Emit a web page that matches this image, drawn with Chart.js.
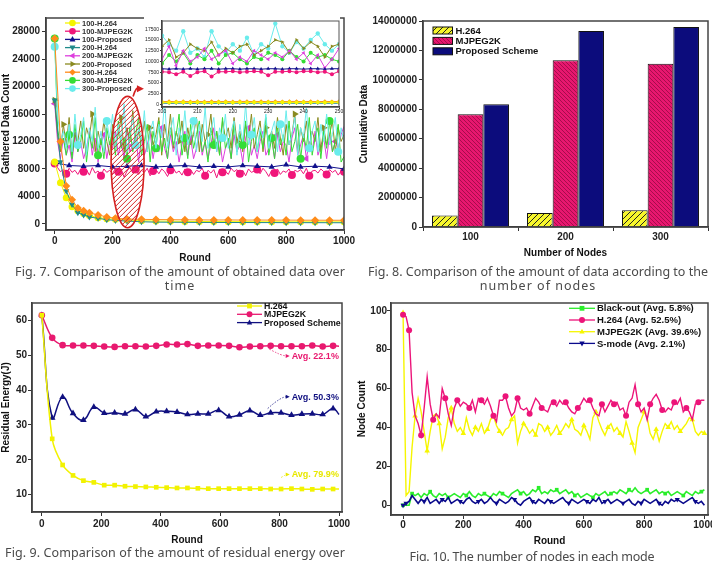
<!DOCTYPE html>
<html>
<head>
<meta charset="utf-8">
<script src="https://cdn.jsdelivr.net/npm/chart.js@4.4.0/dist/chart.umd.min.js"></script>
<style>
  html, body { margin: 0; padding: 0; background: #fff; }
  body { width: 712px; height: 561px; position: relative; overflow: hidden; }
  .box { position: absolute; }
  .cap { position: absolute; white-space: nowrap; font-family: "Noto Sans", "DejaVu Sans", sans-serif;
         font-size: 12.5px; line-height: 14px; color: #4a4a4a; transform: translateX(-50%); letter-spacing: 1px; }
</style>
</head>
<body>
<div class="box" style="left:0;top:0"><canvas id="c1" width="356" height="266"></canvas></div>
<div class="box" style="left:138px;top:17px"><canvas id="c1z" width="208" height="100"></canvas></div>
<div class="box" style="left:356px;top:0"><canvas id="c2" width="356" height="266"></canvas></div>
<div class="box" style="left:0;top:288px"><canvas id="c3" width="356" height="260"></canvas></div>
<div class="box" style="left:356px;top:288px"><canvas id="c4" width="356" height="260"></canvas></div>

<div class="cap" data-w="330" style="left:180px;top:265px">Fig. 7. Comparison of the amount of obtained data over</div>
<div class="cap" style="left:180px;top:279px">time</div>
<div class="cap" data-w="340" style="left:538px;top:265px">Fig. 8. Comparison of the amount of data according to the</div>
<div class="cap" style="left:538px;top:279px">number of nodes</div>
<div class="cap" data-w="340" style="left:175px;top:546px">Fig. 9. Comparison of the amount of residual energy over</div>
<div class="cap" data-w="245" style="left:532px;top:550px">Fig. 10. The number of nodes in each mode</div>

<script>
// ---------- tick labels ----------
const roundTicks = [0, 200, 400, 600, 800, 1000];
const gatheredTicks = [0, 4000, 8000, 12000, 16000, 20000, 24000, 28000];
const insetRoundTicks = [200, 210, 220, 230, 240, 250];
const insetCountTicks = [0, 2500, 5000, 7500, 10000, 12500, 15000, 17500];
const cumTicks = [0, 2000000, 4000000, 6000000, 8000000, 10000000, 12000000, 14000000];
const energyTicks = [10, 20, 30, 40, 50, 60];
const nodeCountTicks = [0, 20, 40, 60, 80, 100];

// ---------- Fig. 7 : gathered data count ----------
const mainRounds = Array.from({ length: 101 }, (_, i) => i * 10);
const h264Rounds = [0, 20, 40, 60, 80, 100, 120, 150, 180, 210, 250, 300, 350, 400, 450, 500, 550, 600, 650, 700, 750, 800, 850, 900, 950, 1000];
const proposed100Rounds = Array.from({ length: 21 }, (_, i) => i * 50);

const h264_100 = [9000, 6000, 3800, 2500, 1900, 1500, 1200, 900, 750, 650, 550, 450, 400, 380, 350, 340, 330, 320, 320, 310, 300, 300, 300, 290, 290, 290];
const h264_200 = [18000, 9000, 4800, 2800, 1600, 1300, 1000, 800, 600, 500, 400, 300, 250, 230, 220, 200, 200, 190, 190, 180, 180, 170, 170, 170, 160, 160];
const h264_300 = [27000, 12000, 5500, 3500, 2300, 1900, 1600, 1300, 1000, 800, 700, 650, 620, 600, 580, 570, 560, 560, 550, 550, 540, 540, 530, 530, 520, 520];
const proposed_100 = [8900, 8500, 8400, 8500, 8300, 8400, 8500, 8300, 8400, 8500, 8300, 8400, 8300, 8500, 8400, 8300, 8600, 8300, 8400, 8300, 8000];
const mjpeg_100 = [
  8800, 8200, 7600, 7900, 7300, 8100, 7500, 7800, 7200, 8000,
  7600, 7900, 7100, 8200, 7400, 7700, 7000, 8000, 7500, 7800,
  7300, 8100, 7600, 7900, 6800, 7700, 8200, 7400, 7900, 7200,
  7800, 7500, 8100, 7000, 7700, 7900, 7300, 8000, 7600, 6900,
  7800, 8100, 7400, 7700, 7100, 8000, 7500, 7900, 7200, 7800,
  7600, 8100, 7000, 7800, 7400, 7900, 6700, 8000, 7500, 7700,
  7200, 8100, 7600, 7900, 7300, 7800, 7000, 8000, 7500, 7700,
  7900, 7300, 8100, 7600, 6900, 7800, 7400, 8000, 7200, 7700,
  7500, 8000, 7100, 7800, 7600, 7900, 7300, 8100, 7000, 7700,
  7800, 7400, 8000, 7600, 7200, 7900, 7500, 7800, 7100, 7700, 7600];
const mjpeg_200 = [
  17500, 12000, 9500, 12500, 10000, 11500, 9000, 13000, 10500, 12000,
  9500, 11000, 13500, 10000, 12500, 9000, 11500, 13000, 9500, 12000,
  11000, 13500, 10000, 12000, 9500, 14000, 10500, 11500, 13000, 9000,
  12500, 10000, 11500, 13500, 9500, 12000, 10500, 14000, 11000, 9500,
  13000, 10500, 12000, 9000, 11500, 13500, 10000, 12500, 9500, 11000,
  13500, 10000, 12000, 9500, 11500, 14000, 10500, 12500, 9000, 11000,
  12000, 9500, 13000, 10500, 11500, 9000, 12500, 14000, 10000, 11500,
  9500, 12000, 13500, 10000, 11000, 12500, 9500, 13000, 10500, 12000,
  11500, 9000, 12500, 14000, 10000, 11500, 13000, 9500, 12000, 10500,
  13500, 10000, 11500, 12500, 9500, 13000, 10500, 12000, 11000, 13000, 14200];
const proposed_200 = [
  18000, 13000, 10500, 14500, 11500, 15500, 10000, 13000, 12000, 15000,
  11000, 14000, 12500, 16000, 10500, 13500, 11500, 15000, 12000, 10000,
  14500, 11500, 13000, 15500, 10500, 14000, 12000, 16500, 11000, 13500,
  12000, 15000, 10500, 14000, 11500, 13000, 15500, 10000, 14500, 12000,
  16000, 11000, 13500, 12000, 15000, 10500, 14000, 11500, 13000, 15500,
  10500, 14500, 12000, 13000, 16000, 11000, 13500, 10000, 15000, 12500,
  14000, 11000, 15500, 12000, 13500, 10500, 14500, 12500, 16000, 11000,
  13000, 15000, 10500, 14000, 12000, 13500, 11000, 15500, 12500, 10000,
  14500, 11500, 13000, 16000, 10500, 14000, 12000, 15000, 11000, 13500,
  12000, 15500, 10500, 14000, 11500, 13000, 15000, 10500, 14000, 12000, 13000];
const mjpeg_300 = [
  27000, 14000, 11000, 12500, 10000, 13000, 9500, 14500, 10500, 12000,
  15000, 9000, 13000, 11000, 15500, 10000, 12500, 9500, 14000, 11500,
  13500, 10000, 15000, 11000, 12500, 9500, 14000, 10500, 13000, 15500,
  10000, 12000, 14500, 9000, 13500, 11000, 15000, 10500, 12500, 9500,
  14000, 11500, 13000, 16000, 10000, 12500, 9500, 14500, 11000, 13000,
  15000, 10500, 12000, 9000, 14000, 11500, 13500, 10000, 15500, 11000,
  12500, 9500, 14500, 10500, 13000, 11500, 15000, 9000, 12000, 14000,
  10500, 13500, 11000, 15500, 10000, 12500, 9500, 14000, 11500, 13000,
  10000, 15000, 10500, 12000, 14500, 9500, 13000, 11000, 15500, 10000,
  12500, 14000, 9500, 13500, 11000, 15000, 10500, 12000, 14500, 9000, 9800];
const proposed_300 = [
  25800, 16000, 12000, 13500, 11000, 14500, 10500, 16000, 11500, 13000,
  15500, 10000, 14000, 12000, 17000, 11000, 13500, 10500, 15000, 12500,
  16000, 11000, 14500, 12000, 17500, 10500, 13000, 15500, 11500, 14000,
  12000, 16500, 10500, 13500, 15000, 11000, 14500, 12500, 18000, 11000,
  13500, 15500, 10000, 14000, 12000, 16500, 11500, 13000, 15000, 10500,
  14500, 12000, 17000, 11000, 13500, 15500, 10500, 14000, 12500, 16000,
  11000, 13500, 15000, 10000, 14500, 12000, 17500, 11500, 13000, 15500,
  10500, 14000, 12500, 16000, 11000, 13500, 15000, 10500, 14500, 12000,
  16500, 11500, 13000, 15500, 10000, 14000, 12500, 17000, 11000, 13500,
  15000, 10500, 14500, 12000, 16000, 11500, 13000, 15500, 10500, 14000, 12000];

// zoomed window, rounds 200-250
const insetRounds = Array.from({ length: 26 }, (_, i) => 200 + i * 2);
const inset_h264_100 = [500, 450, 500, 480, 450, 500, 470, 450, 480, 500, 460, 480, 450, 500, 470, 480, 460, 500, 480, 460, 500, 470, 480, 460, 500, 480];
const inset_h264_200 = [300, 250, 280, 300, 250, 270, 300, 260, 280, 250, 300, 270, 260, 280, 300, 250, 280, 270, 300, 260, 280, 250, 300, 270, 280, 260];
const inset_h264_300 = [650, 700, 620, 680, 650, 700, 640, 690, 660, 700, 630, 680, 700, 650, 690, 640, 700, 660, 680, 700, 650, 690, 640, 700, 660, 680];
const inset_prop_100 = [8300, 8200, 8300, 8200, 8300, 8200, 8300, 8300, 8200, 8300, 8300, 8200, 8300, 8300, 8200, 8300, 8300, 8200, 8300, 8300, 8200, 8300, 8300, 8200, 8300, 8300];
const inset_mjpeg_100 = [7600, 7500, 7000, 7600, 6600, 7500, 7700, 6500, 7600, 7600, 7700, 7500, 7600, 7700, 7600, 6800, 7600, 7600, 7700, 7500, 7700, 7700, 7500, 7600, 7000, 7700];
const inset_mjpeg_200 = [10500, 13500, 9000, 12500, 10000, 11000, 13000, 10500, 11500, 12500, 9500, 11000, 10000, 12500, 11500, 10500, 12000, 11000, 12500, 10500, 12000, 9500, 11500, 8500, 10500, 13000];
const inset_prop_200 = [13500, 15000, 11000, 12000, 14000, 13000, 12500, 14500, 11500, 13000, 12000, 13500, 14000, 11500, 12500, 13500, 15000, 14500, 12000, 15000, 13000, 14500, 13500, 11000, 13500, 14000];
const inset_mjpeg_300 = [9500, 11500, 10000, 12000, 9500, 11500, 10500, 12500, 9500, 11500, 12000, 10500, 9500, 11000, 10500, 12000, 11500, 10500, 12500, 11000, 10000, 12000, 11000, 11500, 10500, 10000];
const inset_prop_300 = [16000, 14000, 12500, 17000, 12000, 13000, 11000, 17000, 13500, 12000, 14000, 12500, 15500, 11500, 14000, 13000, 18800, 13500, 12000, 14500, 13000, 15000, 16500, 14000, 12500, 14000];

// highlighted window (ellipse) and its arrow, in data units
const markCenter = [252, 9000];
const markRadius = [57, 9570];
const arrowPath = [[271, 18550], [282, 20100], [305, 19700]];

// ---------- Fig. 8 : cumulative data ----------
const nodeCounts = ['100', '200', '300'];
const cumH264 = [790000, 950000, 1130000];
const cumMjpeg = [7670000, 11340000, 11090000];
const cumProposed = [8350000, 13320000, 13590000];

// ---------- Fig. 9 : residual energy ----------
const energyRounds = [0, 35, 70, 105, 140, 175, 210, 245, 280, 315, 350, 385, 420, 455, 490, 525, 560, 595, 630, 665, 700, 735, 770, 805, 840, 875, 910, 945, 980, 1000];
const energyH264 = [61.5, 26, 18.5, 15.5, 14, 13.5, 12.7, 12.7, 12.4, 12.3, 12.2, 12.1, 12.0, 11.9, 11.9, 11.8, 11.7, 11.7, 11.7, 11.7, 11.7, 11.7, 11.6, 11.6, 11.7, 11.6, 11.5, 11.6, 11.6, 11.6];
const energyMjpeg = [61.5, 55, 52.9, 52.8, 52.8, 52.7, 52.5, 52.4, 52.6, 52.6, 52.5, 52.7, 53.1, 53.1, 53.2, 52.7, 52.8, 52.8, 52.7, 52.3, 52.5, 52.6, 52.7, 52.6, 52.6, 52.6, 52.8, 52.5, 52.7, 52.6];
const energyProposed = [61.5, 32, 38, 33.3, 31.4, 35.1, 33.4, 33.5, 33.2, 34.4, 32.4, 33.8, 33.9, 33.7, 33, 33.2, 33.2, 34.2, 32.4, 32.9, 34.1, 32.8, 33.5, 33.5, 32.8, 33.1, 33.2, 33, 34.7, 33];
const avgNotes = [
  { text: 'Avg. 22.1%', color: '#e8196f', from: [765, 51.8], to: [834, 49.8] },
  { text: 'Avg. 50.3%', color: '#101080', from: [760, 34.7], to: [834, 38.1] },
  { text: 'Avg. 79.9%', color: '#e8e800', from: [805, 14.9], to: [834, 15.8] }
];

// ---------- Fig. 10 : node count per mode ----------
const modeRounds = Array.from({ length: 101 }, (_, i) => i * 10);
const blackout = [
  0, 0, 0, 6, 5, 6, 4, 6, 5, 7,
  5, 4, 6, 5, 6, 4, 5, 6, 5, 4,
  6, 5, 7, 5, 4, 6, 5, 6, 5, 4,
  6, 5, 7, 6, 5, 4, 6, 7, 8, 6,
  7, 5, 6, 8, 7, 9, 6, 7, 6, 8,
  7, 8, 6, 7, 8, 6, 7, 5, 6, 4,
  5, 6, 5, 4, 6, 5, 6, 7, 5, 6,
  7, 6, 8, 7, 6, 8, 7, 9, 7, 6,
  7, 8, 6, 7, 8, 6, 7, 6, 7, 5,
  6, 7, 6, 5, 7, 6, 5, 7, 6, 7, 8];
const modeH264 = [
  98, 97, 90, 58, 46, 42, 36, 50, 66, 52,
  44, 47, 45, 60, 55, 47, 41, 50, 54, 51,
  53, 52, 50, 54, 48, 55, 54, 52, 55, 51,
  46, 43, 54, 54, 56, 50, 46, 48, 55, 50,
  49, 50, 47, 51, 55, 53, 50, 49, 48, 52,
  53, 51, 54, 52, 53, 50, 48, 47, 50, 52,
  55, 53, 54, 50, 47, 46, 52, 48, 51, 54,
  52, 53, 49, 50, 46, 53, 55, 62, 52, 48,
  50, 44, 52, 55, 57, 54, 49, 48, 50, 49,
  53, 52, 55, 48, 50, 48, 44, 52, 53, 54, 54];
const modeMjpeg = [
  99, 5, 7, 30, 46, 55, 48, 38, 28, 38,
  46, 47, 42, 29, 35, 45, 50, 42, 38, 40,
  37, 45, 39, 36, 40, 38, 42, 37, 39, 44,
  46, 41, 38, 36, 39, 40, 44, 46, 32, 38,
  42, 40, 37, 39, 36, 42, 41, 38, 40, 36,
  38, 41, 37, 39, 42, 40, 44, 39, 38, 36,
  41, 38, 34, 45, 48, 43, 39, 36, 40, 42,
  38, 40, 37, 35, 43, 38, 32, 27, 40, 44,
  48, 45, 37, 34, 39, 33, 38, 42, 40, 43,
  39, 41, 38, 40, 42, 45, 44, 38, 36, 38, 37];
const sMode = [
  0, 1, 2, 5, 3, 1, 3, 2, 4, 1,
  2, 3, 1, 3, 2, 4, 1, 2, 3, 2,
  1, 3, 4, 2, 1, 2, 3, 1, 2, 4,
  2, 1, 3, 2, 1, 2, 4, 3, 1, 0,
  2, 3, 4, 2, 1, 3, 2, 1, 3, 2,
  1, 2, 3, 4, 2, 1, 3, 2, 1, 2,
  3, 2, 1, 3, 2, 4, 1, 2, 3, 1,
  2, 3, 2, 1, 2, 3, 1, 0, 2, 1,
  3, 2, 1, 2, 3, 1, 0, 2, 1, 3,
  2, 3, 2, 1, 2, 3, 4, 2, 1, 2, 0];

// ---------- helpers ----------
const FAMILY = "'Liberation Sans', Arial, sans-serif";
const pts = (xs, ys) => xs.map((x, i) => ({ x, y: ys[i] }));

function linAxis(o) {
  return {
    type: 'linear', min: o.min, max: o.max,
    ticks: {
      autoSkip: false, maxRotation: 0,
      padding: o.tickPad, color: '#222', font: { family: FAMILY, size: o.fs || 10, weight: o.fw || 'bold' },
      callback: v => String(v)
    },
    afterBuildTicks: s => { s.ticks = o.at.map(v => ({ value: v })); },
    grid: { drawOnChartArea: false, drawTicks: true, tickLength: o.tl || 4, color: '#333', lineWidth: 1 },
    border: { display: true, color: '#333', width: 1.5 },
    title: {
      display: !!o.title, text: o.title, color: '#111',
      font: { family: FAMILY, size: 10, weight: 'bold' },
      padding: { top: o.titlePad || 0, bottom: o.titlePad || 0 }
    },
    afterFit: s => fixSize(s, o.size)
  };
}

function fixSize(s, size) {
  if (s.isHorizontal()) { s.height = size; s.paddingLeft = 0; s.paddingRight = 0; }
  else { s.width = size; s.paddingTop = 0; s.paddingBottom = 0; }
}

function series(label, color, data, style, extra) {
  return Object.assign({
    label, data, borderColor: color, backgroundColor: color,
    pointBackgroundColor: color, pointBorderColor: color,
    pointStyle: style, pointRadius: 3.5, pointBorderWidth: 0,
    borderWidth: 1, fill: false, tension: 0
  }, extra);
}

function everyNth(n, off, r) {
  return ctx => (ctx.dataIndex === 0 || ctx.dataIndex % n === off) ? r : 0;
}

function drawMarker(ctx, style, rot, r, x, y) {
  ctx.save();
  ctx.translate(x, y);
  ctx.rotate((rot || 0) * Math.PI / 180);
  ctx.beginPath();
  if (style === 'rect') ctx.rect(-r * 0.8, -r * 0.8, r * 1.6, r * 1.6);
  else if (style === 'rectRot') { ctx.moveTo(0, -r); ctx.lineTo(r, 0); ctx.lineTo(0, r); ctx.lineTo(-r, 0); ctx.closePath(); }
  else if (style === 'triangle') { ctx.moveTo(0, -r); ctx.lineTo(r * 0.9, r * 0.6); ctx.lineTo(-r * 0.9, r * 0.6); ctx.closePath(); }
  else ctx.arc(0, 0, r, 0, Math.PI * 2);
  ctx.fill();
  ctx.restore();
}

const framePlugin = {
  id: 'frame',
  afterDatasetsDraw(chart) {
    const { ctx, chartArea: a } = chart;
    ctx.save();
    ctx.strokeStyle = chart.options.frameColor || '#444';
    ctx.lineWidth = chart.options.frameWidth || 1.5;
    ctx.strokeRect(a.left, a.top, a.right - a.left, a.bottom - a.top);
    ctx.restore();
  }
};

function lineLegend(cfg) {
  return {
    id: 'lineLegend',
    afterDraw(chart) {
      const { ctx, chartArea } = chart;
      ctx.save();
      ctx.font = cfg.font;
      ctx.textBaseline = 'middle';
      chart.data.datasets.forEach((ds, i) => {
        const y = chartArea.top + cfg.top + i * cfg.rowH;
        const x0 = chartArea.left + cfg.left;
        ctx.strokeStyle = ds.borderColor;
        ctx.lineWidth = 1.3;
        ctx.beginPath(); ctx.moveTo(x0, y); ctx.lineTo(x0 + cfg.len, y); ctx.stroke();
        ctx.fillStyle = ds.pointBackgroundColor;
        drawMarker(ctx, ds.pointStyle, ds.pointRotation, cfg.r, x0 + cfg.len / 2, y);
        ctx.fillStyle = cfg.textColor || '#111';
        ctx.fillText(ds.label, x0 + cfg.len + cfg.gap, y + 0.5);
      });
      ctx.restore();
    }
  };
}

function hatch(bg, line, size, dir) {
  const c = document.createElement('canvas');
  c.width = size; c.height = size;
  const g = c.getContext('2d');
  g.fillStyle = bg; g.fillRect(0, 0, size, size);
  g.strokeStyle = line; g.lineWidth = 1;
  g.beginPath();
  if (dir === '/') {
    g.moveTo(-1, size + 1); g.lineTo(size + 1, -1);
    g.moveTo(-1, 1); g.lineTo(1, -1);
    g.moveTo(size - 1, size + 1); g.lineTo(size + 1, size - 1);
  } else {
    g.moveTo(-1, -1); g.lineTo(size + 1, size + 1);
    g.moveTo(size - 1, -1); g.lineTo(size + 1, 1);
    g.moveTo(-1, size - 1); g.lineTo(1, size + 1);
  }
  g.stroke();
  return g.createPattern(c, 'repeat');
}

const noHover = { responsive: false, animation: false, events: [],
  plugins: { legend: { display: false }, tooltip: { enabled: false } } };

// ---------- Fig. 7 main ----------
const c1Colors = { y: '#f4f400', pink: '#f0167a', navy: '#10108c', teal: '#1f8a8a',
  violet: '#dd3fdd', olive: '#8a8a20', orange: '#ff8c1a', green: '#35dd35', cyan: '#6aecec' };

const markPlugin = {
  id: 'mark',
  afterDatasetsDraw(chart) {
    const { ctx, scales: { x, y } } = chart;
    const cx = x.getPixelForValue(markCenter[0]), cy = y.getPixelForValue(markCenter[1]);
    const rx = x.getPixelForValue(markCenter[0] + markRadius[0]) - cx;
    const ry = cy - y.getPixelForValue(markCenter[1] + markRadius[1]);
    ctx.save();
    ctx.beginPath(); ctx.ellipse(cx, cy, rx, ry, 0, 0, Math.PI * 2);
    ctx.save(); ctx.clip();
    ctx.strokeStyle = '#d42a2a'; ctx.lineWidth = 1;
    for (let d = -rx - ry * 2; d < rx + ry * 2; d += 5) {
      ctx.beginPath(); ctx.moveTo(cx + d - ry, cy + ry); ctx.lineTo(cx + d + ry, cy - ry); ctx.stroke();
    }
    ctx.restore();
    ctx.beginPath(); ctx.ellipse(cx, cy, rx, ry, 0, 0, Math.PI * 2);
    ctx.strokeStyle = '#d42020'; ctx.lineWidth = 1.6; ctx.stroke();
    const p = arrowPath.map(q => [x.getPixelForValue(q[0]), y.getPixelForValue(q[1])]);
    ctx.beginPath(); ctx.moveTo(p[0][0], p[0][1]); ctx.quadraticCurveTo(p[1][0], p[1][1], p[2][0] - 4, p[2][1]);
    ctx.stroke();
    ctx.fillStyle = '#d42020';
    ctx.beginPath(); ctx.moveTo(p[2][0] + 1, p[2][1]); ctx.lineTo(p[2][0] - 6, p[2][1] - 3.5); ctx.lineTo(p[2][0] - 6, p[2][1] + 3.5); ctx.closePath(); ctx.fill();
    ctx.restore();
  }
};

new Chart(document.getElementById('c1'), {
  type: 'line',
  data: {
    datasets: [
      series('100-H.264', c1Colors.y, pts(h264Rounds, h264_100), 'circle', { order: 0.8 }),
      series('100-MJPEG2K', c1Colors.pink, pts(mainRounds, mjpeg_100), 'circle', { order: 2, pointRadius: everyNth(6, 4, 4) }),
      series('100-Proposed', c1Colors.navy, pts(proposed100Rounds, proposed_100), 'triangle', { order: 1 }),
      series('200-H.264', c1Colors.teal, pts(h264Rounds, h264_200), 'triangle', { order: 0.4, pointRotation: 180 }),
      series('200-MJPEG2K', c1Colors.violet, pts(mainRounds, mjpeg_200), 'triangle', { order: 6, pointRotation: 270, pointRadius: everyNth(10, 7, 4) }),
      series('200-Proposed', c1Colors.olive, pts(mainRounds, proposed_200), 'triangle', { order: 5, pointRotation: 90, pointRadius: everyNth(10, 3, 4) }),
      series('300-H.264', c1Colors.orange, pts(h264Rounds, h264_300), 'rectRot', { order: 0, pointRadius: 4 }),
      series('300-MJPEG2K', c1Colors.green, pts(mainRounds, mjpeg_300), 'circle', { order: 4, pointRadius: everyNth(10, 5, 4) }),
      series('300-Proposed', c1Colors.cyan, pts(mainRounds, proposed_300), 'circle', { order: 3, pointRadius: everyNth(10, 8, 4) })
    ]
  },
  options: Object.assign({}, noHover, {
    layout: { padding: { left: 0, right: 12, top: 18, bottom: 0 } },
    scales: {
      x: linAxis({ min: -30, max: 1000, at: roundTicks, size: 36, tickPad: 1, title: 'Round', titlePad: 2 }),
      y: linAxis({ min: -900, max: 30000, at: gatheredTicks, size: 46, tickPad: 2, title: 'Gathered Data Count', titlePad: 0 })
    }
  }),
  plugins: [framePlugin, markPlugin,
    lineLegend({ font: "bold 7.5px " + FAMILY, top: 5, rowH: 8.2, left: 19, len: 15, gap: 2, r: 3.3, textColor: '#333' })]
});

// ---------- Fig. 7 inset ----------
const insetBg = {
  id: 'insetBg',
  beforeDraw(chart) {
    const { ctx, chartArea: a } = chart;
    ctx.save(); ctx.fillStyle = '#fff';
    ctx.fillRect(a.left - 18, 0, a.right - a.left + 19, a.bottom + 1);
    ctx.restore();
  }
};

new Chart(document.getElementById('c1z'), {
  type: 'line',
  data: {
    datasets: [
      series('100-H.264', c1Colors.y, pts(insetRounds, inset_h264_100), 'circle', { pointRadius: 2 }),
      series('100-MJPEG2K', c1Colors.pink, pts(insetRounds, inset_mjpeg_100), 'circle', { pointRadius: 2 }),
      series('100-Proposed', c1Colors.navy, pts(insetRounds, inset_prop_100), 'triangle', { pointRadius: 2.2 }),
      series('200-H.264', c1Colors.teal, pts(insetRounds, inset_h264_200), 'triangle', { pointRadius: 2, pointRotation: 180 }),
      series('200-MJPEG2K', c1Colors.violet, pts(insetRounds, inset_mjpeg_200), 'triangle', { pointRadius: 2.2, pointRotation: 270 }),
      series('200-Proposed', c1Colors.olive, pts(insetRounds, inset_prop_200), 'triangle', { pointRadius: 2.2, pointRotation: 90 }),
      series('300-H.264', c1Colors.orange, pts(insetRounds, inset_h264_300), 'rectRot', { pointRadius: 2.2 }),
      series('300-MJPEG2K', c1Colors.green, pts(insetRounds, inset_mjpeg_300), 'circle', { pointRadius: 2 }),
      series('300-Proposed', c1Colors.cyan, pts(insetRounds, inset_prop_300), 'circle', { pointRadius: 2.2 })
    ]
  },
  options: Object.assign({}, noHover, {
    frameWidth: 1, frameColor: '#555',
    layout: { padding: { left: 0, right: 7, top: 4, bottom: 0 } },
    scales: {
      x: linAxis({ min: 200, max: 250, at: insetRoundTicks, size: 10, tickPad: 0, fs: 5, fw: 'normal', tl: 2 }),
      y: linAxis({ min: -600, max: 19400, at: insetCountTicks, size: 24, tickPad: 1, fs: 5, fw: 'normal', tl: 2 })
    }
  }),
  plugins: [insetBg, framePlugin]
});

// ---------- Fig. 8 ----------
const yellowHatch = hatch('#f6f62a', '#222', 6, '/');
const pinkHatch = hatch('#e8176f', '#a80c4c', 4, '\\');

const barLegend = {
  id: 'barLegend',
  afterDraw(chart) {
    const { ctx, chartArea } = chart;
    ctx.save();
    ctx.font = "bold 9.5px " + FAMILY;
    ctx.textBaseline = 'middle';
    chart.data.datasets.forEach((ds, i) => {
      const y = chartArea.top + 9.5 + i * 10.4;
      const x0 = chartArea.left + 10;
      ctx.fillStyle = ds.backgroundColor;
      ctx.fillRect(x0, y - 3.5, 19.5, 7);
      ctx.strokeStyle = '#111'; ctx.lineWidth = 1;
      ctx.strokeRect(x0, y - 3.5, 19.5, 7);
      ctx.fillStyle = '#111';
      ctx.fillText(ds.label, x0 + 22.5, y + 0.5);
    });
    ctx.restore();
  }
};

new Chart(document.getElementById('c2'), {
  type: 'bar',
  data: {
    labels: nodeCounts,
    datasets: [
      { label: 'H.264', data: cumH264, backgroundColor: yellowHatch, borderColor: '#111', borderWidth: 1 },
      { label: 'MJPEG2K', data: cumMjpeg, backgroundColor: pinkHatch, borderColor: '#111', borderWidth: 1 },
      { label: 'Proposed Scheme', data: cumProposed, backgroundColor: '#0c0c7c', borderColor: '#111', borderWidth: 1 }
    ]
  },
  options: Object.assign({}, noHover, {
    datasets: { bar: { barPercentage: 1, categoryPercentage: 0.81 } },
    layout: { padding: { left: 0, right: 4, top: 21, bottom: 0 } },
    scales: {
      x: {
        type: 'category',
        ticks: { padding: 0, color: '#222', font: { family: FAMILY, size: 10, weight: 'bold' }, maxRotation: 0 },
        grid: { offset: true, drawOnChartArea: false, drawTicks: true, tickLength: 4, color: '#333' },
        border: { display: true, color: '#333', width: 1.5 },
        title: { display: true, text: 'Number of Nodes', color: '#111', font: { family: FAMILY, size: 10, weight: 'bold' }, padding: { top: 7, bottom: 7 } },
        afterFit: s => fixSize(s, 39)
      },
      y: linAxis({ min: 0, max: 14000000, at: cumTicks, size: 67, tickPad: 2, title: 'Cumulative Data', titlePad: 2 })
    }
  }),
  plugins: [framePlugin, barLegend]
});

// ---------- Fig. 9 ----------
const notePlugin = {
  id: 'notes',
  afterDatasetsDraw(chart) {
    const { ctx, scales: { x, y } } = chart;
    ctx.save();
    ctx.font = "bold 9px " + FAMILY;
    ctx.textBaseline = 'middle';
    avgNotes.forEach(n => {
      const x1 = x.getPixelForValue(n.from[0]), y1 = y.getPixelForValue(n.from[1]);
      const x2 = x.getPixelForValue(n.to[0]), y2 = y.getPixelForValue(n.to[1]);
      ctx.strokeStyle = n.color; ctx.lineWidth = 0.8; ctx.setLineDash([1.5, 1.5]);
      ctx.beginPath(); ctx.moveTo(x1, y1); ctx.quadraticCurveTo(x1 + (x2 - x1) * 0.6, y2, x2 - 3, y2); ctx.stroke();
      ctx.setLineDash([]);
      ctx.fillStyle = n.color;
      ctx.beginPath(); ctx.moveTo(x2, y2); ctx.lineTo(x2 - 4, y2 - 2); ctx.lineTo(x2 - 4, y2 + 2); ctx.closePath(); ctx.fill();
      ctx.fillText(n.text, x2 + 2, y2 + 0.5);
    });
    ctx.restore();
  }
};
const lastOff = r => ctx => ctx.dataIndex === energyRounds.length - 1 ? 0 : r;

new Chart(document.getElementById('c3'), {
  type: 'line',
  data: {
    datasets: [
      series('H.264', '#f2f200', pts(energyRounds, energyH264), 'rect', { borderWidth: 1.5, tension: 0.35, pointRadius: lastOff(3.3) }),
      series('MJPEG2K', '#e8196f', pts(energyRounds, energyMjpeg), 'circle', { borderWidth: 1.5, tension: 0.35, pointRadius: lastOff(3.3) }),
      series('Proposed Scheme', '#101080', pts(energyRounds, energyProposed), 'triangle', { borderWidth: 1.5, tension: 0.45, pointRadius: lastOff(3.8) })
    ]
  },
  options: Object.assign({}, noHover, {
    layout: { padding: { left: 0, right: 14, top: 15, bottom: 0 } },
    scales: {
      x: linAxis({ min: -33, max: 1010, at: roundTicks, size: 36, tickPad: 2, title: 'Round', titlePad: 2 }),
      y: linAxis({ min: 5, max: 65, at: energyTicks, size: 32, tickPad: 1, title: 'Residual Energy(J)', titlePad: 0 })
    }
  }),
  plugins: [framePlugin, notePlugin,
    lineLegend({ font: "bold 8.8px " + FAMILY, top: 3, rowH: 8.3, left: 205, len: 25, gap: 2, r: 3 })]
});

// ---------- Fig. 10 ----------
new Chart(document.getElementById('c4'), {
  type: 'line',
  data: {
    datasets: [
      series('Black-out (Avg. 5.8%)', '#2aee2a', pts(modeRounds, blackout), 'rect', { order: 1, borderWidth: 1.6, pointRadius: everyNth(6, 3, 2.6) }),
      series('H.264 (Avg. 52.5%)', '#ec1479', pts(modeRounds, modeH264), 'circle', { order: 2, borderWidth: 1.4, pointRadius: everyNth(4, 2, 3) }),
      series('MJPEG2K (Avg. 39.6%)', '#f6f600', pts(modeRounds, modeMjpeg), 'triangle', { order: 3, borderWidth: 1.4, pointRadius: everyNth(4, 0, 3.2) }),
      series('S-mode (Avg. 2.1%)', '#0a0a8c', pts(modeRounds, sMode), 'triangle', { order: 0, borderWidth: 1.6, pointRotation: 180, pointRadius: everyNth(6, 1, 3) })
    ]
  },
  options: Object.assign({}, noHover, {
    layout: { padding: { left: 0, right: 1, top: 15, bottom: 0 } },
    scales: {
      x: linAxis({ min: -40, max: 1012, at: roundTicks, size: 33, tickPad: 0, title: 'Round', titlePad: 1 }),
      y: linAxis({ min: -5, max: 104, at: nodeCountTicks, size: 35, tickPad: 0, title: 'Node Count', titlePad: 0 })
    }
  }),
  plugins: [framePlugin,
    lineLegend({ font: "bold 9.5px " + FAMILY, top: 5.3, rowH: 11.7, left: 178, len: 26, gap: 2, r: 3 })]
});

// ---------- caption widths ----------
document.querySelectorAll('.cap[data-w]').forEach(el => {
  el.style.letterSpacing = '0px';
  const w = el.offsetWidth;
  const n = el.textContent.length;
  el.style.letterSpacing = ((+el.dataset.w - w) / n) + 'px';
});
</script>
</body>
</html>
